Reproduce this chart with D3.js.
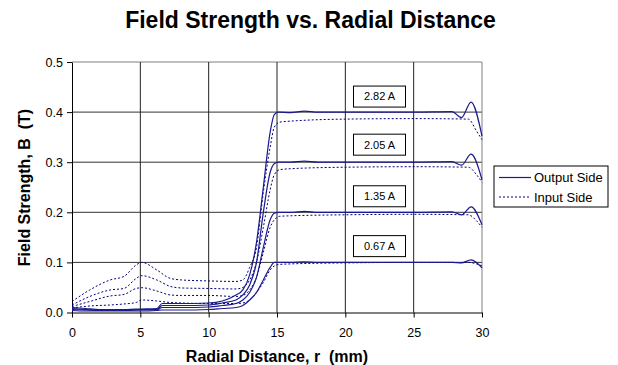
<!DOCTYPE html>
<html>
<head>
<meta charset="utf-8">
<script src="https://cdn.jsdelivr.net/npm/d3@7"></script>
<style>
  body { margin: 0; background: #fff; }
  text { font-family: "Liberation Sans", Arial, sans-serif; }
</style>
</head>
<body>
<svg id="chart" width="618" height="365"></svg>
<script>
// radial positions (mm) for the two kinds of curves
const rOutput = [0, 1, 2, 3, 4, 5, 6.2, 6.6, 8, 10, 11, 12, 12.5, 13, 13.5, 14, 14.5, 14.8, 15.1, 16, 17, 18, 20, 25, 27.8, 28.5, 29.2, 30];
const rInput = [0, 1.3, 2.8, 3.8, 4.7, 5.1, 6.2, 7.2, 8, 10, 12, 12.5, 13, 13.5, 14, 14.5, 14.8, 15.2, 16, 20, 25, 29, 29.6, 30];

// output side (solid)
const out282 = [0.010, 0.008, 0.006, 0.006, 0.006, 0.007, 0.008, 0.018, 0.018, 0.019, 0.023, 0.035, 0.045, 0.075, 0.140, 0.250, 0.360, 0.395, 0.400, 0.399, 0.402, 0.400, 0.400, 0.400, 0.401, 0.389, 0.420, 0.352];
const out205 = [0.008, 0.006, 0.005, 0.005, 0.005, 0.006, 0.006, 0.014, 0.014, 0.015, 0.019, 0.025, 0.035, 0.055, 0.100, 0.200, 0.280, 0.297, 0.300, 0.300, 0.302, 0.300, 0.300, 0.300, 0.301, 0.294, 0.316, 0.265];
const out135 = [0.006, 0.005, 0.004, 0.004, 0.004, 0.005, 0.005, 0.010, 0.010, 0.011, 0.014, 0.018, 0.025, 0.040, 0.070, 0.130, 0.185, 0.198, 0.200, 0.200, 0.202, 0.200, 0.200, 0.200, 0.201, 0.195, 0.211, 0.175];
const out067 = [0.004, 0.003, 0.003, 0.003, 0.003, 0.003, 0.004, 0.005, 0.005, 0.006, 0.008, 0.010, 0.014, 0.025, 0.040, 0.065, 0.090, 0.100, 0.100, 0.100, 0.101, 0.100, 0.100, 0.100, 0.100, 0.099, 0.105, 0.089];

// input side (dotted)
const in282 = [0.022, 0.045, 0.065, 0.072, 0.095, 0.100, 0.085, 0.068, 0.065, 0.063, 0.062, 0.065, 0.090, 0.130, 0.240, 0.330, 0.370, 0.380, 0.382, 0.386, 0.387, 0.386, 0.362, 0.345];
const in205 = [0.015, 0.032, 0.045, 0.048, 0.068, 0.0735, 0.065, 0.052, 0.049, 0.048, 0.047, 0.050, 0.065, 0.100, 0.170, 0.245, 0.275, 0.285, 0.287, 0.290, 0.291, 0.290, 0.275, 0.260];
const in135 = [0.012, 0.022, 0.033, 0.036, 0.048, 0.0495, 0.043, 0.035, 0.034, 0.034, 0.032, 0.034, 0.045, 0.070, 0.120, 0.170, 0.185, 0.192, 0.193, 0.195, 0.196, 0.195, 0.183, 0.170];
const in067 = [0.009, 0.013, 0.015, 0.017, 0.020, 0.025, 0.023, 0.020, 0.019, 0.018, 0.018, 0.019, 0.025, 0.040, 0.060, 0.085, 0.093, 0.096, 0.097, 0.099, 0.100, 0.100, 0.097, 0.093];

// current labels and where they sit (data units)
const currentLabels = ["2.82 A", "2.05 A", "1.35 A", "0.67 A"];
const labelR = [22.5, 22.5, 22.5, 22.5];
const labelB = [0.431, 0.335, 0.232, 0.1325];

const xTicks = [0, 5, 10, 15, 20, 25, 30];
const yTicks = [0.0, 0.1, 0.2, 0.3, 0.4, 0.5];

const svg = d3.select("#chart");
const plotLeft = 72, plotRight = 482, plotTop = 62, plotBottom = 312.5;

const x = d3.scaleLinear().domain([0, 30]).range([plotLeft, plotRight]);
const y = d3.scaleLinear().domain([0, 0.5]).range([plotBottom, plotTop]);

// grid
svg.append("g")
    .selectAll("line")
    .data(yTicks.slice(1))
    .enter().append("line")
    .attr("x1", plotLeft).attr("x2", plotRight)
    .attr("y1", d => y(d)).attr("y2", d => y(d))
    .attr("stroke", d => d === 0.5 ? "#808080" : "#333")
    .attr("stroke-width", 1);

svg.append("g")
    .selectAll("line")
    .data(xTicks.slice(1))
    .enter().append("line")
    .attr("x1", d => x(d)).attr("x2", d => x(d))
    .attr("y1", plotTop).attr("y2", plotBottom)
    .attr("stroke", d => d === 30 ? "#808080" : "#222")
    .attr("stroke-width", 1);

// axes
const xAxis = svg.append("g")
    .attr("transform", `translate(0,${plotBottom})`)
    .call(d3.axisBottom(x).tickValues(xTicks).tickSize(5).tickSizeOuter(0).tickFormat(d3.format("d")));
const yAxis = svg.append("g")
    .attr("transform", `translate(${plotLeft},0)`)
    .call(d3.axisLeft(y).tickValues(yTicks).tickSize(5).tickSizeOuter(0).tickFormat(d3.format(".1f")));

[xAxis, yAxis].forEach(a => {
    a.select(".domain").attr("stroke", "#000");
    a.selectAll(".tick line").attr("stroke", "#000");
    a.selectAll("text").attr("font-size", 12.5).attr("fill", "#000")
        .attr("font-family", "'Liberation Sans', Arial, sans-serif");
});
xAxis.selectAll("text").attr("y", 24.5).attr("dy", null);
yAxis.selectAll("text").attr("x", -9);

// curves
const line = d3.line()
    .x(d => x(d[0]))
    .y(d => y(d[1]))
    .curve(d3.curveMonotoneX);

const outputSeries = [out282, out205, out135, out067];
const inputSeries = [in282, in205, in135, in067];

svg.append("g")
    .selectAll("path")
    .data(inputSeries)
    .enter().append("path")
    .attr("d", vals => line(vals.map((v, i) => [rInput[i], v])))
    .attr("fill", "none")
    .attr("stroke", "#000080")
    .attr("stroke-width", 1)
    .attr("stroke-dasharray", "2,2");

svg.append("g")
    .selectAll("path")
    .data(outputSeries)
    .enter().append("path")
    .attr("d", vals => line(vals.map((v, i) => [rOutput[i], v])))
    .attr("fill", "none")
    .attr("stroke", "#1a1a8e")
    .attr("stroke-width", 1.2);

// current labels
const lab = svg.append("g")
    .selectAll("g")
    .data(currentLabels)
    .enter().append("g")
    .attr("transform", (d, i) => `translate(${x(labelR[i])},${y(labelB[i])})`);
lab.append("rect")
    .attr("x", -26).attr("y", -10.5)
    .attr("width", 52).attr("height", 21)
    .attr("fill", "#fff").attr("stroke", "#000");
lab.append("text")
    .attr("text-anchor", "middle")
    .attr("dy", "0.35em")
    .attr("font-size", 11)
    .text(d => d);

// legend
const legend = svg.append("g").attr("transform", "translate(494,166)");
legend.append("rect")
    .attr("width", 114).attr("height", 41)
    .attr("fill", "#fff").attr("stroke", "#000");
const legendItems = [
    {name: "Output Side", dash: null, color: "#1a1a8e", w: 1.2},
    {name: "Input Side", dash: "2,2", color: "#000080", w: 1}
];
legendItems.forEach((it, i) => {
    const yy = 11.5 + i * 19.5;
    legend.append("line")
        .attr("x1", 5).attr("x2", 37)
        .attr("y1", yy).attr("y2", yy)
        .attr("stroke", it.color)
        .attr("stroke-width", it.w)
        .attr("stroke-dasharray", it.dash);
    legend.append("text")
        .attr("x", 40).attr("y", yy)
        .attr("dy", "0.35em")
        .attr("font-size", 13)
        .text(it.name);
});

// titles
svg.append("text")
    .attr("x", 310.5).attr("y", 27.5)
    .attr("text-anchor", "middle")
    .attr("font-size", 23)
    .attr("font-weight", "bold")
    .text("Field Strength vs. Radial Distance");

svg.append("text")
    .attr("x", 277).attr("y", 361.5)
    .attr("text-anchor", "middle")
    .attr("font-size", 16)
    .attr("font-weight", "bold")
    .style("white-space", "pre")
    .text("Radial Distance, r  (mm)");

svg.append("text")
    .attr("transform", "translate(29.5,187.5) rotate(-90)")
    .attr("text-anchor", "middle")
    .attr("font-size", 16)
    .attr("font-weight", "bold")
    .style("white-space", "pre")
    .text("Field Strength, B  (T)");
</script>
</body>
</html>
